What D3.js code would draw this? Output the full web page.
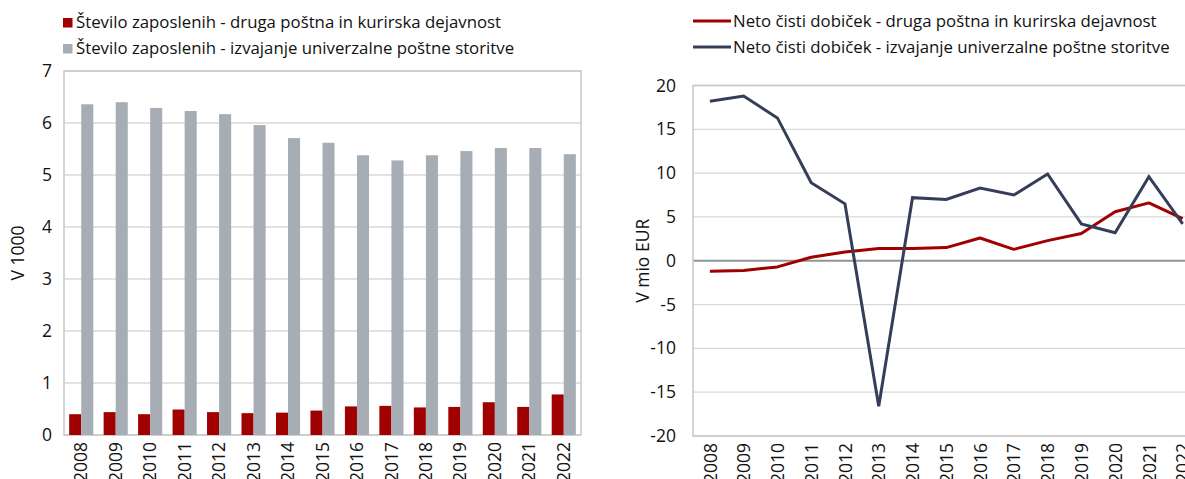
<!DOCTYPE html>
<html>
<head>
<meta charset="utf-8">
<script src="https://cdn.jsdelivr.net/npm/d3@7"></script>
<style>
  body { margin: 0; background: #fff; }
  svg { display: block; font-family: "Open Sans", sans-serif; }
</style>
</head>
<body>
<script>
// canvas size
var width = 1185
var height = 479

// data
const years = ["2008","2009","2010","2011","2012","2013","2014","2015","2016","2017","2018","2019","2020","2021","2022"]
const employeesOther = [0.40, 0.44, 0.40, 0.49, 0.44, 0.42, 0.43, 0.47, 0.55, 0.56, 0.53, 0.54, 0.63, 0.54, 0.78]
const employeesUniversal = [6.36, 6.40, 6.29, 6.23, 6.17, 5.96, 5.71, 5.62, 5.38, 5.28, 5.38, 5.46, 5.52, 5.52, 5.40]
const profitOther = [-1.2, -1.1, -0.7, 0.4, 1.0, 1.4, 1.4, 1.5, 2.6, 1.3, 2.3, 3.1, 5.6, 6.6, 4.8]
const profitUniversal = [18.2, 18.8, 16.3, 8.9, 6.5, -16.6, 7.2, 7.0, 8.3, 7.5, 9.9, 4.2, 3.2, 9.6, 4.2]
const leftTicks = [0, 1, 2, 3, 4, 5, 6, 7]
const rightTicks = [-20, -15, -10, -5, 0, 5, 10, 15, 20]
const legendLeft = ["Število zaposlenih - druga poštna in kurirska dejavnost", "Število zaposlenih - izvajanje univerzalne poštne storitve"]
const legendRight = ["Neto čisti dobiček - druga poštna in kurirska dejavnost", "Neto čisti dobiček - izvajanje univerzalne poštne storitve"]

const RED = "#a00000"
const GREY = "#a6adb4"
const NAVY = "#363d58"
const FONT = 16.8
const TICK_FONT = 17.5

const svg = d3.select("body").append("svg")
  .attr("width", width)
  .attr("height", height)

// ---------- left chart: bars ----------
var L = {left: 64, right: 581, top: 71, bottom: 435}

var xL = d3.scaleBand()
  .domain(years)
  .range([L.left, L.right])
  .paddingInner(0.3)
  .paddingOuter(0.15)

var xSub = d3.scaleBand()
  .domain(["other", "universal"])
  .range([0, xL.bandwidth()])

var yL = d3.scaleLinear()
  .domain([0, 7])
  .range([L.bottom, L.top])

var gL = svg.append("g")

// gridlines
gL.selectAll("line.grid")
  .data(leftTicks)
  .enter().append("line")
  .attr("x1", L.left).attr("x2", L.right)
  .attr("y1", d => yL(d)).attr("y2", d => yL(d))
  .attr("stroke", "#d9d9d9")
  .attr("stroke-width", 1.3)

gL.append("rect")
  .attr("x", L.left).attr("y", L.top)
  .attr("width", L.right - L.left).attr("height", L.bottom - L.top)
  .attr("fill", "none")
  .attr("stroke", "#c8c8c8")
  .attr("stroke-width", 1.5)

gL.selectAll("rect.other")
  .data(employeesOther)
  .enter().append("rect")
  .attr("x", (d, i) => xL(years[i]) + xSub("other"))
  .attr("y", d => yL(d))
  .attr("width", xSub.bandwidth())
  .attr("height", d => yL(0) - yL(d))
  .attr("fill", RED)

gL.selectAll("rect.universal")
  .data(employeesUniversal)
  .enter().append("rect")
  .attr("x", (d, i) => xL(years[i]) + xSub("universal"))
  .attr("y", d => yL(d))
  .attr("width", xSub.bandwidth())
  .attr("height", d => yL(0) - yL(d))
  .attr("fill", GREY)

// axes
var axisYL = gL.append("g")
  .attr("transform", "translate(" + L.left + ",0)")
  .call(d3.axisLeft(yL).tickValues(leftTicks).tickSize(0).tickPadding(12).tickFormat(d => String(d)))
axisYL.select(".domain").remove()

var axisXL = gL.append("g")
  .attr("transform", "translate(0," + L.bottom + ")")
  .call(d3.axisBottom(xL).tickSize(0))
axisXL.select(".domain").remove()
axisXL.selectAll("text")
  .attr("transform", "rotate(-90)")
  .attr("text-anchor", "end")
  .attr("x", -7).attr("y", 0).attr("dy", "0.35em")

gL.append("text")
  .attr("class", "big")
  .attr("transform", "translate(18," + ((L.top + L.bottom) / 2) + ") rotate(-90)")
  .attr("text-anchor", "middle")
  .attr("dy", "0.35em")
  .text("V 1000")

// legend
var legL = gL.selectAll("g.leg")
  .data(legendLeft)
  .enter().append("g")
  .attr("transform", (d, i) => "translate(63," + (18 + i * 26) + ")")
legL.append("rect")
  .attr("width", 9.5).attr("height", 9.5)
  .attr("fill", (d, i) => i == 0 ? RED : GREY)
legL.append("text")
  .attr("x", 13).attr("y", 9.5)
  .text(d => d)

// ---------- right chart: lines ----------
var R = {left: 693, top: 85.5, bottom: 436}
var step = 33.77
R.right = R.left + step * years.length

var xR = d3.scalePoint()
  .domain(years)
  .range([R.left, R.right])
  .padding(0.5)

var yR = d3.scaleLinear()
  .domain([-20, 20])
  .range([R.bottom, R.top])

var gR = svg.append("g")

gR.selectAll("line.grid")
  .data(rightTicks)
  .enter().append("line")
  .attr("x1", R.left).attr("x2", R.right)
  .attr("y1", d => yR(d)).attr("y2", d => yR(d))
  .attr("stroke", d => d == 0 ? "#8f949a" : "#d9d9d9")
  .attr("stroke-width", d => d == 0 ? 2 : 1.3)

gR.append("rect")
  .attr("x", R.left).attr("y", R.top)
  .attr("width", R.right - R.left).attr("height", R.bottom - R.top)
  .attr("fill", "none")
  .attr("stroke", "#c8c8c8")
  .attr("stroke-width", 1.5)

var line = d3.line()
  .x((d, i) => xR(years[i]))
  .y(d => yR(d))

gR.append("path")
  .datum(profitOther)
  .attr("d", line)
  .attr("fill", "none")
  .attr("stroke", RED)
  .attr("stroke-width", 3)
  .attr("stroke-linejoin", "round")

gR.append("path")
  .datum(profitUniversal)
  .attr("d", line)
  .attr("fill", "none")
  .attr("stroke", NAVY)
  .attr("stroke-width", 3)
  .attr("stroke-linejoin", "miter")

var axisYR = gR.append("g")
  .attr("transform", "translate(" + R.left + ",0)")
  .call(d3.axisLeft(yR).tickValues(rightTicks).tickSize(0).tickPadding(17).tickFormat(d => String(d)))
axisYR.select(".domain").remove()

var axisXR = gR.append("g")
  .attr("transform", "translate(0," + R.bottom + ")")
  .call(d3.axisBottom(xR).tickSize(0))
axisXR.select(".domain").remove()
axisXR.selectAll("text")
  .attr("transform", "rotate(-90)")
  .attr("text-anchor", "end")
  .attr("x", -7).attr("y", 0).attr("dy", "0.35em")

gR.append("text")
  .attr("class", "big")
  .attr("transform", "translate(643," + ((R.top + R.bottom) / 2) + ") rotate(-90)")
  .attr("text-anchor", "middle")
  .attr("dy", "0.35em")
  .text("V mio EUR")

var legR = gR.selectAll("g.leg")
  .data(legendRight)
  .enter().append("g")
  .attr("transform", (d, i) => "translate(693," + (21 + i * 26) + ")")
legR.append("line")
  .attr("x1", 0).attr("x2", 38)
  .attr("stroke", (d, i) => i == 0 ? RED : NAVY)
  .attr("stroke-width", 3)
legR.append("text")
  .attr("x", 40).attr("dy", "0.35em")
  .text(d => d)

// shared text style
svg.selectAll("text")
  .attr("font-family", "'Open Sans', sans-serif")
  .attr("font-size", FONT)
  .attr("fill", "#111")
svg.selectAll(".tick text, text.big")
  .attr("font-size", TICK_FONT)
</script>
</body>
</html>
